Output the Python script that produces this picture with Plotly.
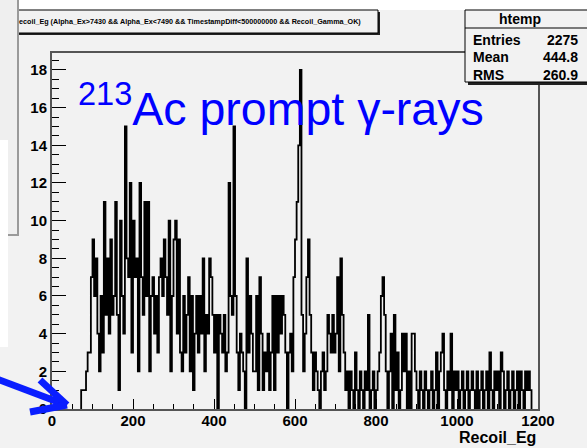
import plotly.graph_objects as go

# ---------------- data ----------------
bin_start = 72
bin_width = 4
counts_072_100 = [1, 1, 1, 2, 3, 3, 7]
counts_100_200 = [9, 6, 8, 4, 2, 6, 3, 11, 5, 8, 4, 9, 5, 6, 11, 5, 1, 10, 6, 4, 15, 8, 7, 12, 3]
counts_200_300 = [10, 7, 8, 2, 12, 7, 5, 11, 6, 11, 2, 6, 7, 4, 6, 3, 7, 8, 6, 9, 7, 5, 10, 2, 6]
counts_300_400 = [9, 10, 4, 9, 3, 2, 6, 3, 5, 7, 2, 6, 1, 4, 6, 3, 6, 4, 8, 2, 5, 4, 8, 7, 5]
counts_400_500 = [3, 5, 0, 5, 4, 3, 5, 2, 3, 12, 6, 5, 15, 6, 3, 1, 4, 3, 2, 0, 8, 3, 6, 4, 2]
counts_500_600 = [2, 6, 1, 7, 4, 1, 3, 2, 4, 1, 3, 6, 1, 6, 3, 6, 4, 6, 5, 3, 0, 3, 4, 2, 7]
counts_600_700 = [9, 11, 14, 18, 5, 2, 4, 7, 9, 5, 3, 1, 3, 2, 1, 0, 2, 3, 1, 2, 5, 4, 3, 5, 3]
counts_700_800 = [4, 7, 2, 8, 5, 3, 1, 2, 0, 2, 1, 0, 3, 1, 0, 2, 1, 0, 2, 1, 5, 0, 1, 2, 0]
counts_800_900 = [1, 2, 3, 6, 7, 5, 2, 0, 2, 4, 0, 5, 1, 3, 0, 1, 4, 2, 4, 0, 2, 0, 4, 4, 2]
counts_900_1000 = [1, 0, 2, 1, 0, 2, 1, 0, 1, 2, 0, 1, 3, 0, 2, 3, 4, 1, 0, 2, 1, 4, 0, 2, 1]
counts_1000_1100 = [2, 0, 1, 2, 0, 1, 2, 0, 1, 2, 1, 0, 2, 0, 1, 2, 0, 1, 2, 0, 3, 1, 0, 2, 1]
counts_1100_1184 = [2, 0, 3, 2, 0, 1, 2, 0, 1, 2, 0, 1, 2, 0, 2, 1, 0, 2, 1, 2, 1]

x_ticks = [0, 200, 400, 600, 800, 1000, 1200]
y_ticks = [0, 2, 4, 6, 8, 10, 12, 14, 16, 18]

title_text = "ecoil_Eg (Alpha_Ex>7430 && Alpha_Ex<7490 && TimestampDiff<500000000 && Recoil_Gamma_OK)"
stats_name = "htemp"
stats_labels = ["Entries", "Mean", "RMS"]
stats_values = ["2275", "444.8", "260.9"]
big_label = "<sup>213</sup>Ac prompt γ-rays"
x_title = "Recoil_Eg"

counts = (counts_072_100 + counts_100_200 + counts_200_300 + counts_300_400 +
          counts_400_500 + counts_500_600 + counts_600_700 + counts_700_800 +
          counts_800_900 + counts_900_1000 + counts_1000_1100 + counts_1100_1184)

n = len(counts)
bin_end = bin_start + n * bin_width
xs = [bin_start] + [bin_start + i * bin_width for i in range(n)] + [bin_end, bin_end]
ys = [0] + counts + [counts[-1], 0]

# ---------------- layout helpers (pixel -> paper) ----------------
W, H = 587, 448
L, R, T, B = 52, 538, 53, 409


def px(x):
    return (x - L) / (R - L)


def py(y):
    return (B - y) / (B - T)


BG = "#f2f2f2"
FONT = "Liberation Sans, Arial, sans-serif"

fig = go.Figure()
fig.add_trace(go.Scatter(x=xs, y=ys, mode="lines", line=dict(color="black", width=1.8, shape="hv"),
                         hoverinfo="skip", showlegend=False))

shapes = []


def rect(x0, y0, x1, y1, fill, line_color=None, lw=0):
    shapes.append(dict(type="rect", xref="paper", yref="paper", x0=px(x0), x1=px(x1), y0=py(y1), y1=py(y0),
                       fillcolor=fill, line=dict(color=line_color or fill, width=lw), layer="above"))


def seg(x0, y0, x1, y1, color, lw):
    shapes.append(dict(type="line", xref="paper", yref="paper", x0=px(x0), x1=px(x1), y0=py(y0), y1=py(y1),
                       line=dict(color=color, width=lw), layer="above"))


# white strip at top
rect(18, -5, 592, 10, "white")
# title box with shadow
rect(0, 12, 380, 35, "#222222")
rect(-3, 10, 378, 33, BG, "black", 1)
# stats box with shadow
rect(468, 12, 592, 85, "#222222")
rect(465, 10, 592, 82, BG, "black", 1)
seg(465, 28, 592, 28, "black", 1)
# left overlapping window
rect(-5, -5, 18, 235, "#efefef", "#9a9a9a", 2)
rect(-5, 140, 8, 347, "white")
# blue arrow
blue = "#0a1eff"
seg(-3, 379, 66, 405, blue, 7)
seg(40, 380, 67, 405, blue, 7)
seg(30, 412, 67, 405, blue, 7)

annotations = [
    dict(text=title_text, xref="paper", yref="paper", x=px(17), y=py(21.5), xanchor="left", yanchor="middle",
         showarrow=False, font=dict(family=FONT, size=7.2, color="black", weight="bold")),
    dict(text=stats_name, xref="paper", yref="paper", x=px(520), y=py(19), xanchor="center", yanchor="middle",
         showarrow=False, font=dict(family=FONT, size=14, color="black", weight="bold")),
    dict(text=x_title, xref="paper", yref="paper", x=px(538), y=py(437), xanchor="right", yanchor="middle",
         showarrow=False, font=dict(family=FONT, size=16, color="black", weight="bold")),
    dict(text=big_label, xref="paper", yref="paper", x=px(76), y=py(105), xanchor="left", yanchor="middle",
         showarrow=False, font=dict(family=FONT, size=46.5, color="#0000ff")),
]
for i, (lab, val) in enumerate(zip(stats_labels, stats_values)):
    yy = 40 + i * 17.5
    annotations.append(dict(text=lab, xref="paper", yref="paper", x=px(471), y=py(yy), xanchor="left",
                            yanchor="middle", showarrow=False,
                            font=dict(family=FONT, size=14, color="black", weight="bold")))
    annotations.append(dict(text=val, xref="paper", yref="paper", x=px(580), y=py(yy), xanchor="right",
                            yanchor="middle", showarrow=False,
                            font=dict(family=FONT, size=14, color="black", weight="bold")))

tickfont = dict(family=FONT, size=15, color="black", weight="bold")

fig.update_layout(
    width=W, height=H,
    margin=dict(l=L, r=W - R, t=T, b=H - B, pad=0),
    paper_bgcolor=BG, plot_bgcolor=BG,
    showlegend=False,
    shapes=shapes,
    annotations=annotations,
    xaxis=dict(range=[0, 1200], tickvals=x_ticks, ticktext=[str(v) for v in x_ticks],
               ticks="inside", ticklen=10, tickwidth=1, tickcolor="black", ticklabelstandoff=-3,
               minor=dict(dtick=50, tick0=0, ticks="inside", ticklen=5, tickcolor="black", tickwidth=1),
               showline=True, linecolor="#555555", linewidth=2, mirror=True,
               showgrid=False, zeroline=False, tickfont=tickfont, fixedrange=True),
    yaxis=dict(range=[0, 18.9], tickvals=y_ticks, ticktext=[str(v) for v in y_ticks],
               ticks="inside", ticklen=14, tickwidth=1, tickcolor="black",
               minor=dict(dtick=0.5, tick0=0, ticks="inside", ticklen=7, tickcolor="black", tickwidth=1),
               showline=True, linecolor="#555555", linewidth=2, mirror=True,
               showgrid=False, zeroline=False, tickfont=tickfont, fixedrange=True),
)

fig.write_html("out.html")
